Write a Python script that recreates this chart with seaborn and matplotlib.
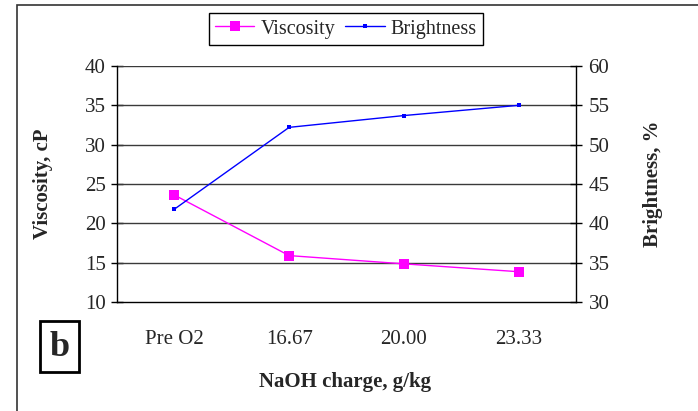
import matplotlib
matplotlib.use("Agg")
import matplotlib.pyplot as plt
from matplotlib.patches import Rectangle
from matplotlib.lines import Line2D
import seaborn as sns
import pandas as pd

# Data
charges = ["Pre O2", "16.67", "20.00", "23.33"]
viscosity = [23.6, 15.9, 14.85, 13.85]
brightness = [41.8, 52.2, 53.7, 55.0]

sns.set_style("white")
plt.rcParams["font.family"] = ["Liberation Serif", "DejaVu Serif"]
plt.rcParams["mathtext.fontset"] = "stix"

df = pd.DataFrame({"charge": charges, "Viscosity": viscosity, "Brightness": brightness})

fig = plt.figure(figsize=(6.98, 4.11), dpi=100)
W, H = 698, 411
ax = fig.add_axes([117 / W, 1 - 302 / H, (576 - 117) / W, (302 - 66) / H])
ax2 = ax.twinx()

sns.lineplot(data=df, x="charge", y="Viscosity", ax=ax, color="#ff00ff",
             marker="s", markersize=6.5, markeredgewidth=0, linewidth=1.0,
             sort=False, zorder=3)
sns.lineplot(data=df, x="charge", y="Brightness", ax=ax2, color="#0000ff",
             marker="s", markersize=2.6, markeredgewidth=0, linewidth=1.0,
             sort=False, zorder=3)

# Axes ranges and ticks
ax.set_xlim(-0.5, 3.5)
ax.set_ylim(10, 40)
ax2.set_ylim(30, 60)
ax.set_yticks(range(10, 41, 5))
ax2.set_yticks(range(30, 61, 5))
ax.set_xticks(range(len(charges)))
ax.set_xticklabels(charges)
ax.set_xticks([i - 0.5 for i in range(len(charges) + 1)], minor=True)
ax.tick_params(axis="x", which="major", length=0, pad=20, labelsize=15)
ax.tick_params(axis="x", which="minor", length=6, width=1, direction="out", color="black")
ax.tick_params(axis="y", length=8, width=1, direction="inout", color="black", labelsize=15, pad=4)
ax2.tick_params(axis="y", length=8, width=1, direction="inout", color="black", labelsize=15, pad=5)

# Horizontal gridlines on the viscosity scale
ax.grid(False)
ax2.grid(False)
for v in range(15, 41, 5):
    ax.axhline(v, color="#3a3a3a", linewidth=1.0, zorder=1)

for a in (ax, ax2):
    for side in ("left", "right", "bottom", "top"):
        a.spines[side].set_visible(False)
ax.spines["left"].set_visible(True)
ax.spines["left"].set_color("black")
ax.spines["left"].set_linewidth(1.0)
ax.spines["bottom"].set_visible(True)
ax.spines["bottom"].set_color("black")
ax.spines["bottom"].set_linewidth(1.0)
ax2.spines["right"].set_visible(True)
ax2.spines["right"].set_color("black")
ax2.spines["right"].set_linewidth(1.0)

# Axis titles
ax.set_xlabel("NaOH charge, g/kg", fontsize=15, fontweight="bold")
ax.set_ylabel("Viscosity, cP", fontsize=15, fontweight="bold")
ax2.set_ylabel("Brightness, %", fontsize=15, fontweight="bold")
ax.xaxis.set_label_coords(0.497, -0.297)
ax.yaxis.set_label_coords(-0.139, 0.5)
ax2.yaxis.set_label_coords(1.146, 0.5)

# Legend
if ax.get_legend() is not None:
    ax.get_legend().remove()
handles = [
    Line2D([], [], color="#ff00ff", marker="s", markersize=6.5, markeredgewidth=0, linewidth=1.0),
    Line2D([], [], color="#0000ff", marker="s", markersize=2.6, markeredgewidth=0, linewidth=1.0),
]
leg = fig.legend(handles, ["Viscosity", "Brightness"], loc="center",
                 bbox_to_anchor=(346 / W, 1 - 29 / H), ncol=2, fontsize=14.5,
                 frameon=True, fancybox=False, edgecolor="black", framealpha=1,
                 handlelength=1.95, handletextpad=0.3, columnspacing=0.5,
                 borderpad=0.3)
leg.get_frame().set_linewidth(1.0)

# Panel letter
fig.patches.append(Rectangle((40 / W, 1 - 372 / H), 39 / W, 51 / H,
                             transform=fig.transFigure, fill=False,
                             edgecolor="black", linewidth=2.0))
fig.text(59.5 / W, 1 - 347 / H, "b", fontsize=26, fontweight="bold",
         ha="center", va="center")

# Outer frame
fig.patches.append(Rectangle((17 / W, -0.05), 1.1, 1 - 5 / H + 0.05,
                             transform=fig.transFigure, fill=False,
                             edgecolor="#333333", linewidth=1.2))

fig.savefig("out.png", dpi=100)
